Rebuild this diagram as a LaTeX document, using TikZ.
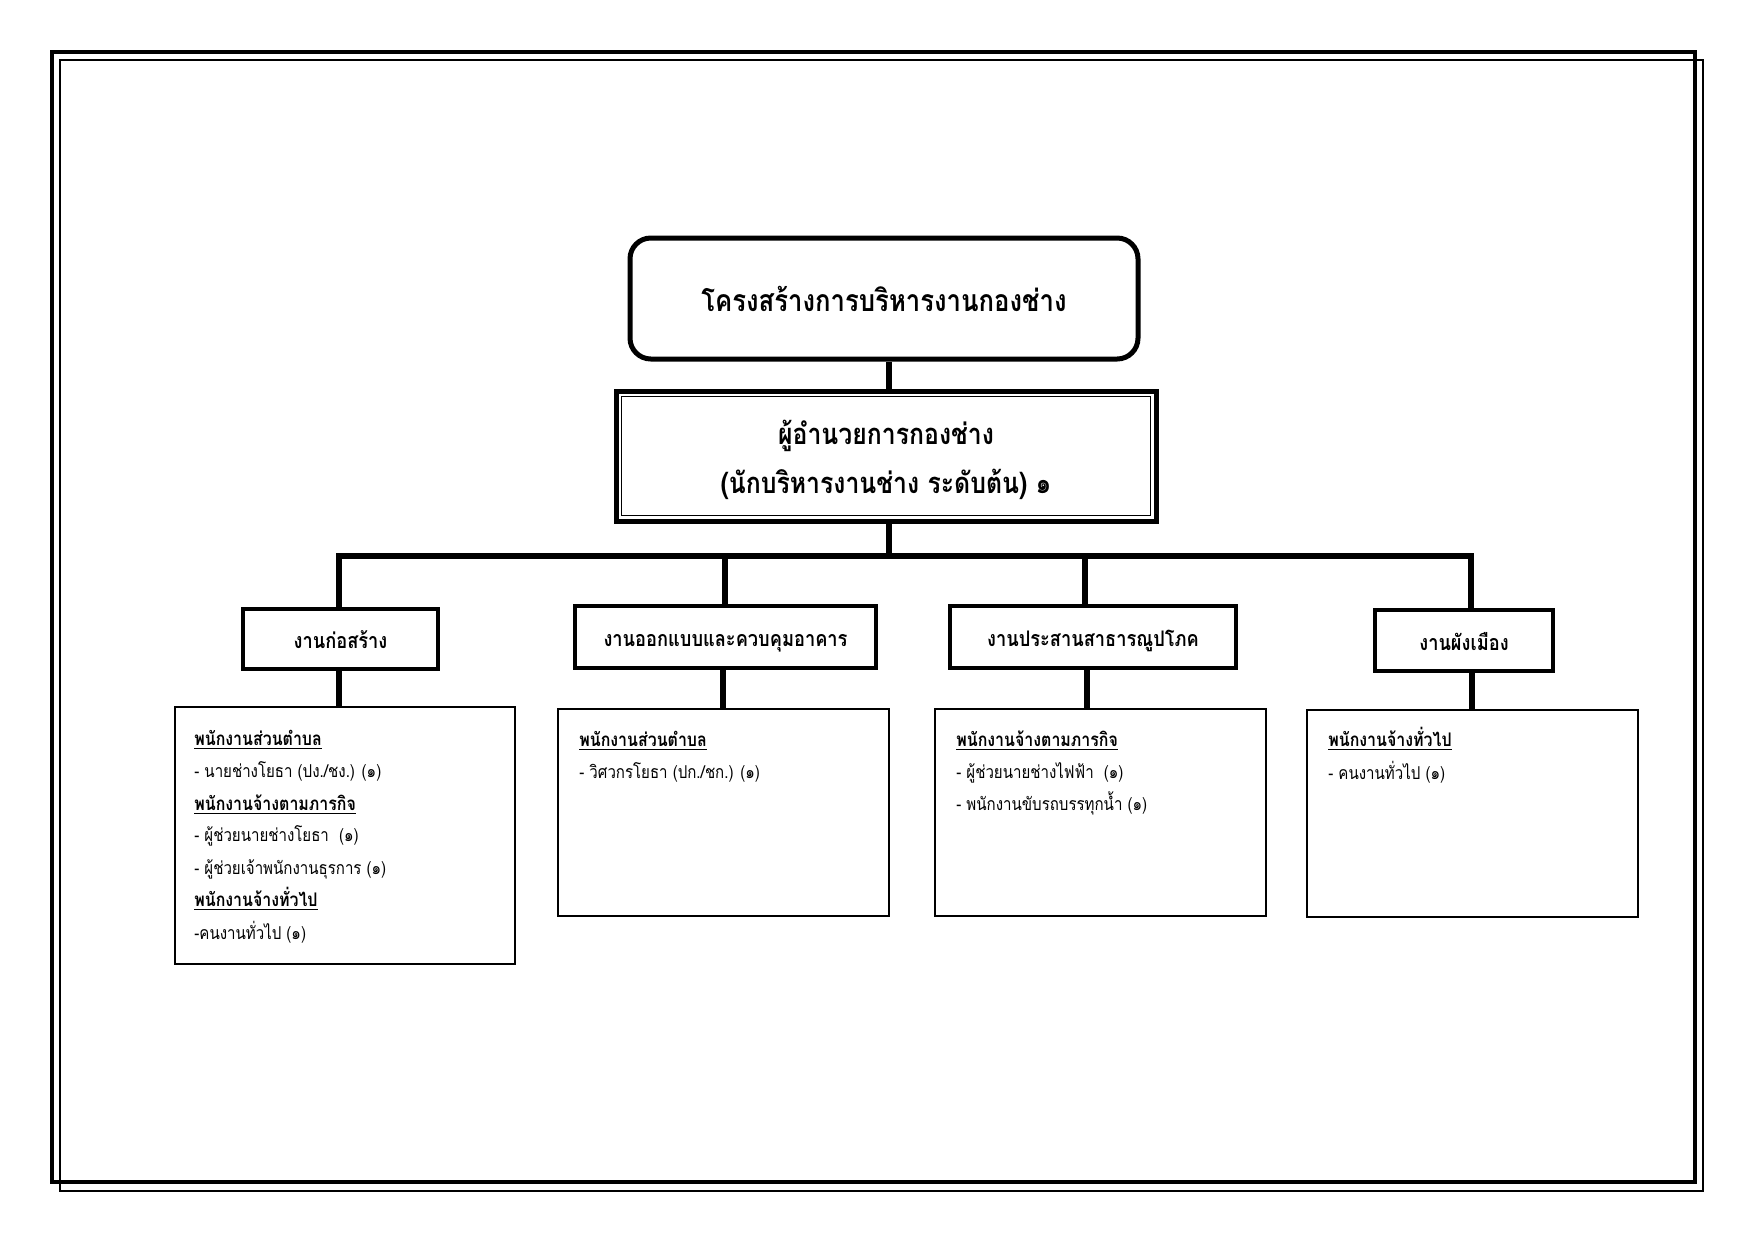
\documentclass[tikz,border=0pt]{standalone}
\usepackage{fontspec}
\setmainfont[Script=Thai, FakeStretch=0.85]{Loma}
\def\pxu{0.48pt}
\begin{document}
\begin{tikzpicture}[x=0.48pt,y=-0.48pt,
  titlebox/.style={draw, line width=2.4pt, rounded corners=10pt, inner sep=0pt, font=\bfseries\fontsize{14.5}{17}\selectfont},
  dirbox/.style={draw, line width=2.4pt, inner sep=0pt},
  dirtext/.style={inner sep=0pt, align=center, font=\bfseries\fontsize{14}{23.5}\selectfont},
  unitbox/.style={draw, line width=1.8pt, inner sep=0pt, text height=9.8pt, text depth=0.4pt, font=\bfseries\fontsize{10.3}{12}\selectfont},
  staffbox/.style={draw, line width=1pt, inner sep=0pt},
  conn/.style={line width=2.6pt},
  bus/.style={line width=2.9pt},
  head/.style={anchor=base west, inner sep=0pt, font=\bfseries\fontsize{9}{11}\selectfont},
  item/.style={anchor=base west, inner sep=0pt, font=\fontsize{8.5}{11}\selectfont}
]
\useasboundingbox (0,0) rectangle (1754,1241);
% page frame
\draw[line width=2pt] (52,52) rectangle (1695,1182);
\draw[line width=0.8pt] (60,60) rectangle (1703,1191);

% title and director
\node[titlebox, minimum width=508*\pxu, minimum height=121*\pxu] (title) at (884,298.5) {โครงสร้างการบริหารงานกองช่าง};
\node[dirbox, minimum width=540*\pxu, minimum height=130*\pxu] (dir) at (886,456) {};
\draw[line width=0.6pt] ([shift={(8,8)}]dir.north west) rectangle ([shift={(-8,-8)}]dir.south east);
\node[dirtext] (dirt) at (886,460) {ผู้อำนวยการกองช่าง\\(นักบริหารงานช่าง ระดับต้น) ๑};

% bus
\coordinate (bl) at (339,556);
\coordinate (br) at (1471,556);
\coordinate (bm) at (889,556);
\coordinate (b2) at (725,556);
\coordinate (b3) at (1085,556);
\draw[conn] (title.south -| bm) -- (dir.north -| bm);
\draw[conn] (dir.south -| bm) -- (bm);
\draw[bus, line cap=rect] (bl) -- (br);

% level 2
\node[unitbox, minimum width=195*\pxu, minimum height=60*\pxu] (ua) at (340.5,639) {งานก่อสร้าง};
\node[unitbox, minimum width=301*\pxu, minimum height=62*\pxu] (ub) at (725.5,637) {งานออกแบบและควบคุมอาคาร};
\node[unitbox, minimum width=286*\pxu, minimum height=62*\pxu] (uc) at (1093,637) {งานประสานสาธารณูปโภค};
\node[unitbox, minimum width=178*\pxu, minimum height=61*\pxu] (ud) at (1464,640.5) {งานผังเมือง};

\draw[conn] (bl) -- (bl |- ua.north);
\draw[conn] (b2) -- (b2 |- ub.north);
\draw[conn] (b3) -- (b3 |- uc.north);
\draw[conn] (br) -- (br |- ud.north);

% level 3
\node[staffbox, minimum width=340*\pxu, minimum height=257*\pxu] (sa) at (345,835.5) {};
\node[staffbox, minimum width=331*\pxu, minimum height=207*\pxu] (sb) at (723.5,812.5) {};
\node[staffbox, minimum width=331*\pxu, minimum height=207*\pxu] (sc) at (1100.5,812.5) {};
\node[staffbox, minimum width=331*\pxu, minimum height=207*\pxu] (sd) at (1472.5,813.5) {};

\coordinate (ca) at (339,0);
\coordinate (cb) at (723,0);
\coordinate (cc) at (1087,0);
\coordinate (cd) at (1472,0);
\draw[conn] (ca |- ua.south) -- (ca |- sa.north);
\draw[conn] (cb |- ub.south) -- (cb |- sb.north);
\draw[conn] (cc |- uc.south) -- (cc |- sc.north);
\draw[conn] (cd |- ud.south) -- (cd |- sd.north);

% texts box A
\node[head] (a1) at (194,745) {\underline{พนักงานส่วนตำบล}};
\node[item] (a2) at (194,777) {- นายช่างโยธา (ปง./ชง.) (๑)};
\node[head] (a3) at (194,810) {\underline{พนักงานจ้างตามภารกิจ}};
\node[item] (a4) at (194,841) {- ผู้ช่วยนายช่างโยธา~~(๑)};
\node[item] (a5) at (194,874) {- ผู้ช่วยเจ้าพนักงานธุรการ (๑)};
\node[head] (a6) at (194,906) {\underline{พนักงานจ้างทั่วไป}};
\node[item] (a7) at (194,939) {-คนงานทั่วไป (๑)};

% box B
\node[head] (b1t) at (579,746) {\underline{พนักงานส่วนตำบล}};
\node[item] (b2t) at (579,778) {- วิศวกรโยธา (ปก./ชก.) (๑)};

% box C
\node[head] (c1t) at (956,746) {\underline{พนักงานจ้างตามภารกิจ}};
\node[item] (c2t) at (956,778) {- ผู้ช่วยนายช่างไฟฟ้า~~(๑)};
\node[item] (c3t) at (956,810) {- พนักงานขับรถบรรทุกน้ำ (๑)};

% box D
\node[head] (d1t) at (1328,746) {\underline{พนักงานจ้างทั่วไป}};
\node[item] (d2t) at (1328,779) {- คนงานทั่วไป (๑)};
\end{tikzpicture}
\end{document}
